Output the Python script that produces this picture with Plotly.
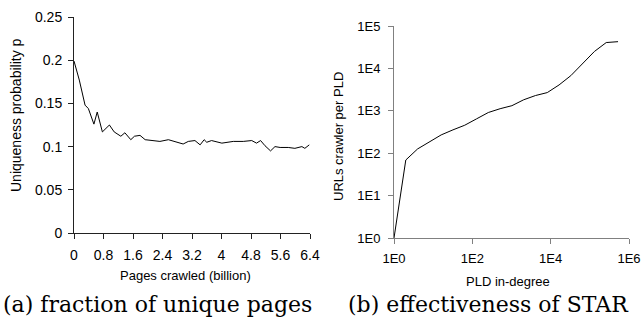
import plotly.graph_objects as go

# (a) uniqueness probability vs pages crawled (billion)
pages_billion = [0.0, 0.144, 0.30, 0.39, 0.54, 0.63, 0.77, 0.96, 1.09, 1.27, 1.38, 1.54, 1.64, 1.79,
                 1.93, 2.11, 2.33, 2.56, 2.83, 2.96, 3.10, 3.28, 3.42, 3.53, 3.60, 3.73, 4.01, 4.32,
                 4.59, 4.82, 4.95, 5.06, 5.18, 5.33, 5.45, 5.59, 5.81, 5.99, 6.18, 6.26, 6.38]
uniqueness_p = [0.199, 0.177, 0.148, 0.144, 0.126, 0.140, 0.117, 0.125, 0.117, 0.112, 0.116, 0.108, 0.112, 0.113,
                0.108, 0.107, 0.106, 0.108, 0.104, 0.103, 0.106, 0.107, 0.102, 0.108, 0.105, 0.107, 0.104, 0.106,
                0.106, 0.107, 0.104, 0.107, 0.101, 0.095, 0.100, 0.099, 0.099, 0.098, 0.100, 0.098, 0.102]

# (b) URLs crawled per PLD vs PLD in-degree
pld_indegree = [1, 2, 4, 8, 16, 32, 64, 128, 256, 512, 1024, 2048, 4096, 8192, 16384,
                32768, 65536, 131072, 262144, 524288]
urls_per_pld = [1, 69, 126, 186, 270, 355, 457, 645, 912, 1120, 1320, 1820, 2290, 2690, 4070,
                6760, 13200, 25100, 40700, 42700]

a_xticks = [0, 0.8, 1.6, 2.4, 3.2, 4, 4.8, 5.6, 6.4]
a_xticklabels = ["0", "0.8", "1.6", "2.4", "3.2", "4", "4.8", "5.6", "6.4"]
a_yticks = [0, 0.05, 0.1, 0.15, 0.2, 0.25]
a_yticklabels = ["0", "0.05", "0.1", "0.15", "0.2", "0.25"]
b_xticks = [1, 100, 10000, 1000000]
b_xticklabels = ["1E0", "1E2", "1E4", "1E6"]
b_yticks = [1, 10, 100, 1000, 10000, 100000]
b_yticklabels = ["1E0", "1E1", "1E2", "1E3", "1E4", "1E5"]

W, H = 642, 322
def px_x(v):
    return v / W
def px_y(v):
    return 1 - v / H

SANS = "Liberation Sans, Arial, sans-serif"
SERIF = "DejaVu Serif, serif"

fig = go.Figure()
fig.add_trace(go.Scatter(x=pages_billion, y=uniqueness_p, mode="lines",
                         line=dict(color="black", width=1), xaxis="x", yaxis="y",
                         showlegend=False, hoverinfo="skip"))
fig.add_trace(go.Scatter(x=pld_indegree, y=urls_per_pld, mode="lines",
                         line=dict(color="black", width=1), xaxis="x2", yaxis="y2",
                         showlegend=False, hoverinfo="skip"))

common = dict(showgrid=False, zeroline=False, showline=True, ticks="outside", ticklen=5,
              tickwidth=1, automargin=False)

fig.update_layout(
    width=W, height=H,
    margin=dict(l=0, r=0, t=0, b=0),
    paper_bgcolor="white", plot_bgcolor="white",
    xaxis=dict(domain=[px_x(74), px_x(310)], range=[0, 6.4], tickvals=a_xticks,
               ticktext=a_xticklabels, anchor="y", linecolor="#222", tickcolor="#222",
               tickfont=dict(family=SANS, size=14, color="black"),
               ticklabelstandoff=4, **common),
    yaxis=dict(domain=[px_y(233), px_y(17)], range=[0, 0.25], tickvals=a_yticks,
               ticktext=a_yticklabels, anchor="x", linecolor="#222", tickcolor="#222",
               tickfont=dict(family=SANS, size=14, color="black"),
               ticklabelstandoff=3, **common),
    xaxis2=dict(domain=[px_x(394), px_x(629)], type="log", range=[0, 6], tickvals=b_xticks,
                ticktext=b_xticklabels, anchor="y2", linecolor="#808080", tickcolor="#808080",
                tickfont=dict(family=SANS, size=13, color="black"),
                ticklabelstandoff=3, **common),
    yaxis2=dict(domain=[px_y(238), px_y(26)], type="log", range=[0, 5], tickvals=b_yticks,
                ticktext=b_yticklabels, anchor="x2", linecolor="#808080", tickcolor="#808080",
                tickfont=dict(family=SANS, size=13, color="black"),
                ticklabelstandoff=5, **common),
)

def ann(text, x, y, size, family, angle=0):
    fig.add_annotation(text=text, x=px_x(x), y=px_y(y), xref="paper", yref="paper",
                       showarrow=False, textangle=angle, xanchor="center", yanchor="middle",
                       font=dict(family=family, size=size, color="black"))

ann("Uniqueness probability p", 16, 115, 14, SANS, -90)
ann("Pages crawled (billion)", 186, 275, 13, SANS)
ann("URLs crawler per PLD", 338, 136, 13, SANS, -90)
ann("PLD in-degree", 508, 281, 13, SANS)
ann("(a) fraction of unique pages", 157, 304, 22, SERIF)
ann("(b) effectiveness of STAR", 488, 304, 22, SERIF)

fig.write_html("out.html", config={"displayModeBar": False},
               post_script="document.body.style.margin='0';document.body.style.overflow='hidden';")
